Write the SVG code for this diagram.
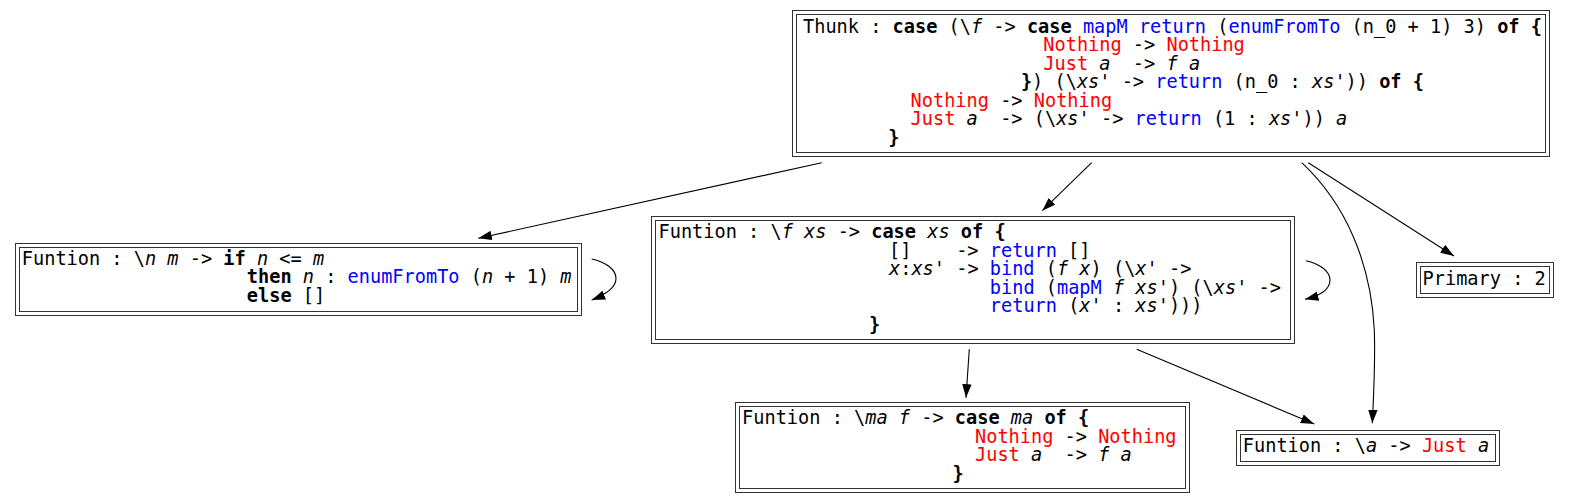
<svg xmlns="http://www.w3.org/2000/svg" width="1570" height="504" viewBox="0 0 1570 504">
<style>
text{font-family:"DejaVu Sans Mono","Liberation Mono",monospace;font-size:18.6px;fill:#000}
.b{font-weight:bold}
.i{font-style:italic}
.f{fill:#0000ff}
.c{fill:#ff0000}
.box{fill:none;stroke:#333;stroke-width:1}
.e{fill:none;stroke:#000;stroke-width:1.1}
</style>
<defs>
<marker id="ah" markerUnits="userSpaceOnUse" markerWidth="14" markerHeight="10" viewBox="0 0 14 10" refX="13.5" refY="5" orient="auto"><path d="M0,0.3 L13.5,5 L0,9.7z" fill="#000"/></marker>
</defs>
<rect width="1570" height="504" fill="#fff"/>
<g id="connectors">
<path class="e" marker-end="url(#ah)" d="M821.7,162.7 L478.3,238.3"/>
<path class="e" marker-end="url(#ah)" d="M1091.7,162.7 L1042.3,210.7"/>
<path class="e" marker-end="url(#ah)" d="M1301.7,162.7 C1345,203 1371,262 1374.3,330 C1375.5,365 1373.5,395 1372.3,423.3"/>
<path class="e" marker-end="url(#ah)" d="M1308.3,162.7 L1454,256"/>
<path class="e" marker-end="url(#ah)" d="M969.3,349.3 L966,397.7"/>
<path class="e" marker-end="url(#ah)" d="M1136.7,349.3 L1314.3,424"/>
<path class="e" marker-end="url(#ah)" d="M591.7,259 C605,262 616,269 616,278.5 C616,287 607,294 591.7,300"/>
<path class="e" marker-end="url(#ah)" d="M1306,260.7 C1319,263.7 1330,270.7 1330,280 C1330,288.5 1321,295.5 1305,299.3"/>
</g>
<g id="thunk">
<rect class="box" x="792.5" y="10.5" width="757" height="146"/>
<rect class="box" x="796.5" y="14.5" width="749" height="138"/>
<text xml:space="preserve" x="803" y="32.5">Thunk : <tspan class="b">case</tspan> (\<tspan class="i">f</tspan> -&gt; <tspan class="b">case</tspan> <tspan class="f">mapM</tspan> <tspan class="f">return</tspan> (<tspan class="f">enumFromTo</tspan> (n_0 + 1) 3) <tspan class="b">of</tspan> <tspan class="b">{</tspan></text>
<text xml:space="preserve" x="1043.3" y="51"><tspan class="c">Nothing</tspan> -&gt; <tspan class="c">Nothing</tspan></text>
<text xml:space="preserve" x="1043.3" y="69.5"><tspan class="c">Just</tspan> <tspan class="i">a</tspan>  -&gt; <tspan class="i">f</tspan> <tspan class="i">a</tspan></text>
<text xml:space="preserve" x="1020.9" y="88"><tspan class="b">}</tspan>) (\<tspan class="i">xs</tspan>' -&gt; <tspan class="f">return</tspan> (n_0 : <tspan class="i">xs</tspan>')) <tspan class="b">of</tspan> <tspan class="b">{</tspan></text>
<text xml:space="preserve" x="910.6" y="106.5"><tspan class="c">Nothing</tspan> -&gt; <tspan class="c">Nothing</tspan></text>
<text xml:space="preserve" x="910.6" y="125"><tspan class="c">Just</tspan> <tspan class="i">a</tspan>  -&gt; (\<tspan class="i">xs</tspan>' -&gt; <tspan class="f">return</tspan> (1 : <tspan class="i">xs</tspan>')) <tspan class="i">a</tspan></text>
<text xml:space="preserve" x="888.2" y="143.5"><tspan class="b">}</tspan></text>
</g>
<g id="enumFromTo">
<rect class="box" x="15.5" y="243.5" width="566" height="72"/>
<rect class="box" x="19.5" y="247.5" width="558" height="64"/>
<text xml:space="preserve" x="21.8" y="264.8">Funtion : \<tspan class="i">n</tspan> <tspan class="i">m</tspan> -&gt; <tspan class="b">if</tspan> <tspan class="i">n</tspan> &lt;= <tspan class="i">m</tspan></text>
<text xml:space="preserve" x="246.8" y="283.3"><tspan class="b">then</tspan> <tspan class="i">n</tspan> : <tspan class="f">enumFromTo</tspan> (<tspan class="i">n</tspan> + 1) <tspan class="i">m</tspan></text>
<text xml:space="preserve" x="246.8" y="301.8"><tspan class="b">else</tspan> []</text>
</g>
<g id="mapM">
<rect class="box" x="651.5" y="216.5" width="643" height="127"/>
<rect class="box" x="655.5" y="220.5" width="635" height="119"/>
<text xml:space="preserve" x="658.5" y="238.3">Funtion : \<tspan class="i">f</tspan> <tspan class="i">xs</tspan> -&gt; <tspan class="b">case</tspan> <tspan class="i">xs</tspan> <tspan class="b">of</tspan> <tspan class="b">{</tspan></text>
<text xml:space="preserve" x="889" y="256.8">[]    -&gt; <tspan class="f">return</tspan> []</text>
<text xml:space="preserve" x="889" y="275.3"><tspan class="i">x</tspan>:<tspan class="i">xs</tspan>' -&gt; <tspan class="f">bind</tspan> (<tspan class="i">f</tspan> <tspan class="i">x</tspan>) (\<tspan class="i">x</tspan>' -&gt;</text>
<text xml:space="preserve" x="989.8" y="293.8"><tspan class="f">bind</tspan> (<tspan class="f">mapM</tspan> <tspan class="i">f</tspan> <tspan class="i">xs</tspan>') (\<tspan class="i">xs</tspan>' -&gt;</text>
<text xml:space="preserve" x="989.8" y="312.3"><tspan class="f">return</tspan> (<tspan class="i">x</tspan>' : <tspan class="i">xs</tspan>')))</text>
<text xml:space="preserve" x="869" y="330.8"><tspan class="b">}</tspan></text>
</g>
<g id="primary">
<rect class="box" x="1416.5" y="262.5" width="137" height="35"/>
<rect class="box" x="1420.5" y="266.5" width="129" height="27"/>
<text xml:space="preserve" x="1422.6" y="285">Primary : 2</text>
</g>
<g id="bind">
<rect class="box" x="735.5" y="402.5" width="454" height="90"/>
<rect class="box" x="739.5" y="406.5" width="446" height="82"/>
<text xml:space="preserve" x="742.1" y="424.3">Funtion : \<tspan class="i">ma</tspan> <tspan class="i">f</tspan> -&gt; <tspan class="b">case</tspan> <tspan class="i">ma</tspan> <tspan class="b">of</tspan> <tspan class="b">{</tspan></text>
<text xml:space="preserve" x="975" y="442.8"><tspan class="c">Nothing</tspan> -&gt; <tspan class="c">Nothing</tspan></text>
<text xml:space="preserve" x="975" y="461.3"><tspan class="c">Just</tspan> <tspan class="i">a</tspan>  -&gt; <tspan class="i">f</tspan> <tspan class="i">a</tspan></text>
<text xml:space="preserve" x="952.6" y="479.8"><tspan class="b">}</tspan></text>
</g>
<g id="return">
<rect class="box" x="1236.5" y="430.5" width="263" height="35"/>
<rect class="box" x="1240.5" y="434.5" width="255" height="27"/>
<text xml:space="preserve" x="1242.8" y="452.3">Funtion : \<tspan class="i">a</tspan> -&gt; <tspan class="c">Just</tspan> <tspan class="i">a</tspan></text>
</g>
</svg>
